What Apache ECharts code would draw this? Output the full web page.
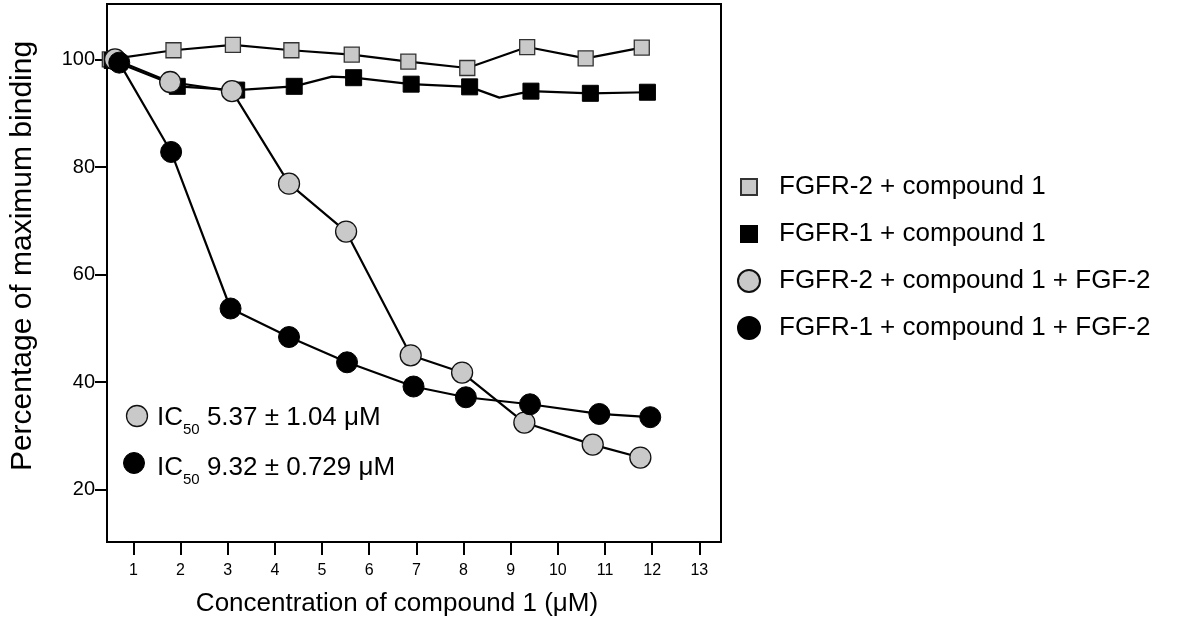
<!DOCTYPE html>
<html>
<head>
<meta charset="utf-8">
<script src="https://cdn.jsdelivr.net/npm/echarts@6/dist/echarts.min.js"></script>
<style>html,body{margin:0;padding:0;background:#fff;}#c{width:1200px;height:623px;}</style>
</head>
<body>
<div id="c"></div>
<script>
// ---- data ----
var seriesNames = ['FGFR-2 + compound 1', 'FGFR-1 + compound 1', 'FGFR-2 + compound 1 + FGF-2', 'FGFR-1 + compound 1 + FGF-2'];

var fgfr2X = [0.50, 1.85, 3.11, 4.35, 5.63, 6.83, 8.08, 9.35, 10.59, 11.78];
var fgfr2Y = [100.0, 101.7, 102.7, 101.7, 100.9, 99.6, 98.4, 102.3, 100.2, 102.2];

var fgfr1X = [0.55, 1.93, 3.19, 4.41, 5.21, 5.67, 6.89, 8.13, 8.76, 9.43, 10.69, 11.90];
var fgfr1Y = [99.8, 95.0, 94.3, 95.0, 96.8, 96.6, 95.4, 94.9, 92.9, 94.1, 93.7, 93.9];
var fgfr1Marked = [true, true, true, true, false, true, true, true, false, true, true, true];

var fgfr2FgfX = [0.61, 1.78, 3.09, 4.30, 5.51, 6.88, 7.97, 9.29, 10.74, 11.75];
var fgfr2FgfY = [100.0, 95.8, 94.1, 76.9, 68.0, 45.0, 41.8, 32.5, 28.4, 26.0];

var fgfr1FgfX = [0.70, 1.80, 3.06, 4.30, 5.53, 6.94, 8.05, 9.41, 10.88, 11.96];
var fgfr1FgfY = [99.4, 82.8, 53.7, 48.4, 43.7, 39.2, 37.2, 35.9, 34.1, 33.5];

var xTicks = [1, 2, 3, 4, 5, 6, 7, 8, 9, 10, 11, 12, 13];
var yTicks = [20, 40, 60, 80, 100];

var ic50Texts = ['5.37 ± 1.04 μM', '9.32 ± 0.729 μM'];

// ---- build ----
function pairs(xs, ys) { return xs.map(function (x, i) { return [x, ys[i]]; }); }
var FONT = '"Liberation Sans", Arial, sans-serif';
var GRAY = '#c9c9c9';

var fgfr1Data = fgfr1X.map(function (x, i) {
  var d = { value: [x, fgfr1Y[i]] };
  if (!fgfr1Marked[i]) { d.symbol = 'none'; }
  return d;
});

var chart = echarts.init(document.getElementById('c'), null, { renderer: 'canvas' });
var squareIcon = 'path://M0,0M22,22M3,3L19,3L19,19L3,19Z';

chart.setOption({
  animation: false,
  backgroundColor: '#fff',
  textStyle: { fontFamily: FONT },
  grid: { left: 107, right: 479, top: 4, bottom: 81, show: true, borderColor: '#000', borderWidth: 2, backgroundColor: 'transparent' },
  legend: {
    orient: 'vertical', left: 737, top: 174, padding: 0,
    itemWidth: 22, itemHeight: 22, itemGap: 21, itemTextGap: 5,
    textStyle: { fontFamily: FONT, fontSize: 26, color: '#000', padding: [0, 0, 0, 14] },
    data: [
      { name: seriesNames[0], icon: squareIcon },
      { name: seriesNames[1], icon: squareIcon },
      { name: seriesNames[2], icon: 'circle' },
      { name: seriesNames[3], icon: 'circle' }
    ]
  },
  xAxis: {
    type: 'value', min: 0.44, max: 13.46,
    name: 'Concentration of compound 1 (μM)', nameLocation: 'middle', nameGap: 49,
    nameTextStyle: { fontFamily: FONT, fontSize: 26, color: '#000', padding: [0, 34, 0, 0] },
    axisLine: { show: true, lineStyle: { color: '#000', width: 2 } },
    axisTick: { show: true, inside: false, length: 13, customValues: xTicks, lineStyle: { color: '#000', width: 2 } },
    axisLabel: { customValues: xTicks, fontSize: 16, color: '#000', margin: 21, fontFamily: FONT },
    splitLine: { show: false }
  },
  yAxis: {
    type: 'value', min: 10.3, max: 110.3,
    name: 'Percentage of maximum binding', nameLocation: 'middle', nameGap: 69,
    nameTextStyle: { fontFamily: FONT, fontSize: 30, color: '#000', padding: [0, 0, 0, 34] },
    axisLine: { show: true, lineStyle: { color: '#000', width: 2 } },
    axisTick: { show: true, inside: false, length: 12, customValues: yTicks, lineStyle: { color: '#000', width: 2 } },
    axisLabel: { customValues: yTicks, fontSize: 20, color: '#000', margin: 12, fontFamily: FONT },
    splitLine: { show: false }
  },
  series: [
    {
      name: seriesNames[0], type: 'line', data: pairs(fgfr2X, fgfr2Y),
      symbol: 'rect', symbolSize: 15,
      itemStyle: { color: GRAY, borderColor: '#333', borderWidth: 1.3 },
      lineStyle: { color: '#000', width: 2.2 }
    },
    {
      name: seriesNames[1], type: 'line', data: fgfr1Data,
      symbol: 'rect', symbolSize: 16,
      itemStyle: { color: '#000', borderColor: '#000', borderWidth: 1 },
      lineStyle: { color: '#000', width: 2.2 }
    },
    {
      name: seriesNames[2], type: 'line', data: pairs(fgfr2FgfX, fgfr2FgfY),
      symbol: 'circle', symbolSize: 21,
      itemStyle: { color: GRAY, borderColor: '#111', borderWidth: 1.3 },
      lineStyle: { color: '#000', width: 2.2 }
    },
    {
      name: seriesNames[3], type: 'line', data: pairs(fgfr1FgfX, fgfr1FgfY),
      symbol: 'circle', symbolSize: 21,
      itemStyle: { color: '#000', borderColor: '#000', borderWidth: 1 },
      lineStyle: { color: '#000', width: 2.2 }
    }
  ],
  graphic: [
    { type: 'circle', shape: { cx: 137, cy: 416, r: 10.5 }, style: { fill: GRAY, stroke: '#111', lineWidth: 1.3 }, z: 10 },
    { type: 'circle', shape: { cx: 134, cy: 463, r: 10.5 }, style: { fill: '#000', stroke: '#000', lineWidth: 1 }, z: 10 },
    {
      type: 'text', left: 157, top: 405, z: 10,
      style: {
        text: '{a|IC}{b|50}{a| ' + ic50Texts[0] + '}',
        rich: {
          a: { fontFamily: FONT, fontSize: 26, lineHeight: 38, fill: '#000', verticalAlign: 'middle' },
          b: { fontFamily: FONT, fontSize: 15, lineHeight: 15, fill: '#000', verticalAlign: 'bottom' }
        }
      }
    },
    {
      type: 'text', left: 157, top: 455, z: 10,
      style: {
        text: '{a|IC}{b|50}{a| ' + ic50Texts[1] + '}',
        rich: {
          a: { fontFamily: FONT, fontSize: 26, lineHeight: 38, fill: '#000', verticalAlign: 'middle' },
          b: { fontFamily: FONT, fontSize: 15, lineHeight: 15, fill: '#000', verticalAlign: 'bottom' }
        }
      }
    }
  ]
});
</script>
</body>
</html>
